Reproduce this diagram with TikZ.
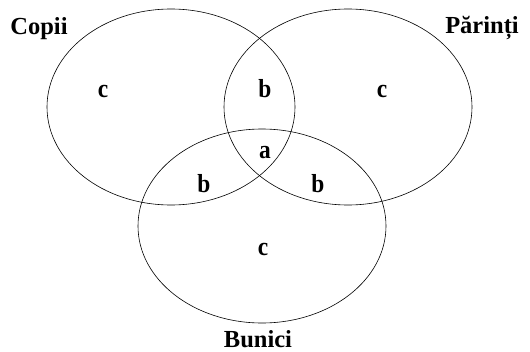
\documentclass[tikz,border=0pt]{standalone}
\usepackage{fontspec}
\setmainfont{Liberation Serif}
\newfontfamily\zonefont[FakeStretch=0.9]{Liberation Serif}
\usepackage{tikz}
\usetikzlibrary{positioning}

\tikzset{
    setlabel/.style={font=\bfseries\fontsize{24.5}{28}\selectfont, inner sep=0pt, anchor=base},
    zonelabel/.style={font=\zonefont\bfseries\fontsize{26}{30}\selectfont, inner sep=0pt, anchor=base}
}

\begin{document}
\begin{tikzpicture}[x=1pt, y=-1pt]
    \useasboundingbox (0,0) rectangle (530,351);

    % Sets
    \draw[line width=0.6pt] (171,107) ellipse [x radius=124, y radius=98];
    \draw[line width=0.6pt] (348,107) ellipse [x radius=124, y radius=98];
    \draw[line width=0.6pt] (262,226) ellipse [x radius=124, y radius=97];

    % Set names
    \node[setlabel] (copii) at (39,34) {Copii};
    \node[setlabel] (parinti) at (482,33) {Părinți};
    \node[setlabel] (bunici) at (258,347) {Bunici};

    % Regions
    \node[zonelabel] (cleft) at (103,97) {c};
    \node[zonelabel] (btop) at (265,97) {b};
    \node[zonelabel] (cright) at (382,97) {c};
    \node[zonelabel] (acentre) at (265,158) {a};
    \node[zonelabel] (bleft) at (204,192) {b};
    \node[zonelabel] (bright) at (318,192) {b};
    \node[zonelabel] (cbottom) at (263,255) {c};
\end{tikzpicture}
\end{document}
